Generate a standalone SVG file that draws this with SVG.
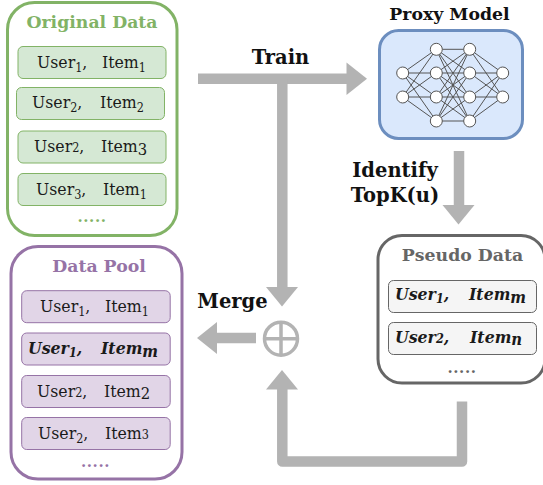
<svg xmlns="http://www.w3.org/2000/svg" width="543" height="485" viewBox="0 0 543 485">
<style>
text{font-family:"DejaVu Serif Condensed","DejaVu Serif",serif}
.h{font-family:"DejaVu Serif",serif;font-weight:700;font-size:17.300px;text-anchor:middle}
.l{font-family:"DejaVu Serif",serif;font-weight:700;font-size:19.500px;fill:#111;text-anchor:middle}
.r{font-size:17.500px;fill:#1a1a1a}
.b{font-size:17.500px;font-weight:700;font-style:italic;fill:#1a1a1a}
.s{font-size:12.500px}
.d{font-family:"DejaVu Serif",serif;font-weight:700;font-size:15px;letter-spacing:.6px;text-anchor:middle}
.o{fill:#fff;stroke-width:3}
.gr{fill:#d5e8d4;stroke:#82b366}
.pu{fill:#e1d5e7;stroke:#9673a6}
.gy{fill:#f5f5f5;stroke:#666}
.c{fill:none;stroke:#b3b3b3;stroke-width:10.500;stroke-linejoin:round}
.a{fill:#b3b3b3}
.n{fill:#fff;stroke:#555;stroke-width:1}
</style>
<g id="connectors">
<path class="c" d="M198 78.800H348"/><polygon class="a" points="346.500,62.500 367,78.800 346.500,95"/>
<path class="c" d="M282.300 79V288"/><polygon class="a" points="266,287 298,287 282,306.500"/>
<path class="c" d="M459 151V206"/><polygon class="a" points="442.500,205 474.500,205 458.500,224.500"/>
<path class="c" d="M256 338H216"/><polygon class="a" points="217,322 217,354 197,338"/>
<path class="c" d="M462 401.500V461.500H282.300V388"/><polygon class="a" points="266,389.500 298,389.500 282,370"/>
</g>
<g id="original-data">
<rect class="o" x="7.500" y="2.500" width="169.500" height="233" rx="27" stroke="#82b366"/>
<text class="h" x="92" y="28" fill="#82b366">Original Data</text>
<rect class="gr" x="18" y="46.500" width="148" height="32" rx="5"/>
<text class="r" y="68"><tspan x="37">User</tspan><tspan class="s" dy="4">1</tspan><tspan dy="-4">,</tspan><tspan x="102">Item</tspan><tspan class="s" dy="4">1</tspan></text>
<rect class="gr" x="16.500" y="87.500" width="148" height="32" rx="5"/>
<text class="r" y="108"><tspan x="32">User</tspan><tspan class="s" dy="4">2</tspan><tspan dy="-4">,</tspan><tspan x="100">Item</tspan><tspan class="s" dy="4">2</tspan></text>
<rect class="gr" x="18" y="131" width="148" height="32" rx="5"/>
<text class="r" y="152"><tspan x="34">User</tspan><tspan class="s">2</tspan><tspan>,</tspan><tspan x="101">Item</tspan><tspan dy="3" font-size="16.500">3</tspan></text>
<rect class="gr" x="18" y="173.500" width="148" height="32" rx="5"/>
<text class="r" y="195"><tspan x="36">User</tspan><tspan class="s" dy="4">3</tspan><tspan dy="-4">,</tspan><tspan x="103">Item</tspan><tspan class="s" dy="4">1</tspan></text>
<text class="d" x="92" y="221.500" fill="#82b366">.....</text>
</g>
<g id="data-pool">
<rect class="o" x="11" y="246.500" width="171" height="232.500" rx="27" stroke="#9673a6"/>
<text class="h" x="99" y="272" fill="#9673a6">Data Pool</text>
<rect class="pu" x="21.700" y="290.700" width="148.500" height="32" rx="5"/>
<text class="r" y="312"><tspan x="40">User</tspan><tspan class="s" dy="4">1</tspan><tspan dy="-4">,</tspan><tspan x="105">Item</tspan><tspan class="s" dy="4">1</tspan></text>
<rect class="pu" x="21.700" y="333" width="148.500" height="32" rx="5"/>
<text class="b" y="354" fill="#000"><tspan x="28">User</tspan><tspan class="s" dy="3">1</tspan><tspan dy="-3">,</tspan><tspan x="101">Item</tspan><tspan dy="3" font-size="16.500">m</tspan></text>
<rect class="pu" x="21.700" y="375.500" width="148.500" height="32" rx="5"/>
<text class="r" y="397"><tspan x="37">User</tspan><tspan class="s">2</tspan><tspan>,</tspan><tspan x="104">Item</tspan><tspan dy="2" font-size="16.500">2</tspan></text>
<rect class="pu" x="21.700" y="417.500" width="148.500" height="32" rx="5"/>
<text class="r" y="439"><tspan x="38">User</tspan><tspan class="s" dy="4">2</tspan><tspan dy="-4">,</tspan><tspan x="105">Item</tspan><tspan class="s">3</tspan></text>
<text class="d" x="95.500" y="467" fill="#9673a6">.....</text>
</g>
<g id="pseudo-data">
<rect class="o" x="378" y="235.500" width="167" height="147.500" rx="24" stroke="#666"/>
<text class="h" x="462.500" y="261" fill="#666">Pseudo Data</text>
<rect class="gy" x="388.500" y="280.500" width="148" height="32" rx="5"/>
<text class="b" y="300"><tspan x="395">User</tspan><tspan class="s" dy="3">1</tspan><tspan dy="-3">,</tspan><tspan x="469">Item</tspan><tspan dy="3" font-size="16.500">m</tspan></text>
<rect class="gy" x="388.500" y="322.500" width="148" height="32" rx="5"/>
<text class="b" y="343"><tspan x="395">User</tspan><tspan class="s">2</tspan><tspan>,</tspan><tspan x="470">Item</tspan><tspan dy="2" font-size="16.500">n</tspan></text>
<text class="d" x="462" y="373" fill="#666">.....</text>
</g>
<g id="proxy-model">
<text class="h" x="449.500" y="19.500" fill="#111">Proxy Model</text>
<rect x="379.500" y="30.500" width="143" height="108" rx="19" fill="#dae8fc" stroke="#6c8ebf" stroke-width="3"/>
<path fill="none" stroke="#555" stroke-width="1" d="M402.700 73L436.300 49.300M402.700 73L436.300 73M402.700 73L436.300 97M402.700 73L436.300 121M402.700 97L436.300 49.300M402.700 97L436.300 73M402.700 97L436.300 97M402.700 97L436.300 121M436.300 49.300L469.700 49.300M436.300 49.300L469.700 73M436.300 49.300L469.700 97M436.300 49.300L469.700 121M436.300 73L469.700 49.300M436.300 73L469.700 73M436.300 73L469.700 97M436.300 73L469.700 121M436.300 97L469.700 49.300M436.300 97L469.700 73M436.300 97L469.700 97M436.300 97L469.700 121M436.300 121L469.700 49.300M436.300 121L469.700 73M436.300 121L469.700 97M436.300 121L469.700 121M469.700 49.300L502.700 73M469.700 49.300L502.700 97M469.700 73L502.700 73M469.700 73L502.700 97M469.700 97L502.700 73M469.700 97L502.700 97M469.700 121L502.700 73M469.700 121L502.700 97"/>
<circle class="n" cx="402.700" cy="73" r="6"/><circle class="n" cx="402.700" cy="97" r="6"/>
<circle class="n" cx="436.300" cy="49.300" r="6"/><circle class="n" cx="436.300" cy="73" r="6"/><circle class="n" cx="436.300" cy="97" r="6"/><circle class="n" cx="436.300" cy="121" r="6"/>
<circle class="n" cx="469.700" cy="49.300" r="6"/><circle class="n" cx="469.700" cy="73" r="6"/><circle class="n" cx="469.700" cy="97" r="6"/><circle class="n" cx="469.700" cy="121" r="6"/>
<circle class="n" cx="502.700" cy="73" r="6"/><circle class="n" cx="502.700" cy="97" r="6"/>
</g>
<g id="merge-symbol" fill="none" stroke="#b3b3b3" stroke-width="3.500">
<circle cx="281" cy="338.700" r="16.500"/><path d="M264.500 338.700H297.500M281 322.200V355.200"/>
</g>
<g id="labels">
<text class="l" x="280.500" y="64">Train</text>
<text class="l" x="232.500" y="308">Merge</text>
<text class="l" x="395" y="177">Identify</text>
<text class="l" x="395" y="202">TopK(u)</text>
</g>
</svg>
